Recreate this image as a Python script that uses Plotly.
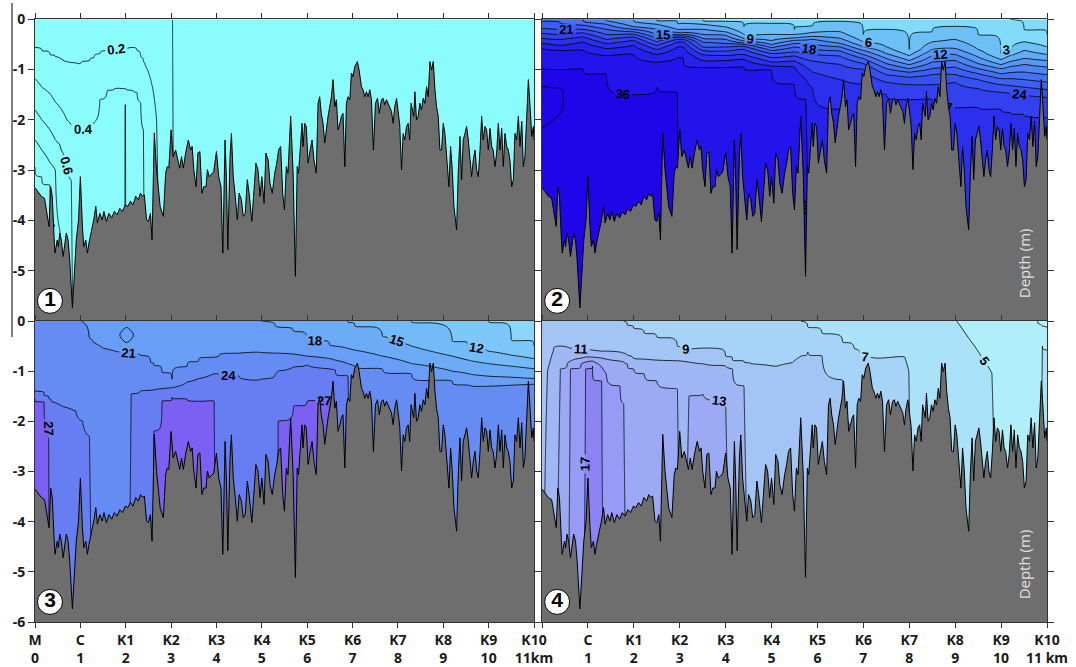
import numpy as np
import plotly.graph_objects as go

U, D = 9.0, -9.0   # isoline above the surface / never reached in that column

# ---------------- bathymetry (km, depth m) ----------------
BATHY_KM = [0.0, 0.07, 0.14, 0.21, 0.265, 0.31, 0.345, 0.38, 0.42, 0.44, 0.49, 0.515, 0.545, 0.58, 0.62,
            0.655, 0.69, 0.73, 0.765, 0.825, 0.87, 0.91, 0.96, 1.0, 1.045, 1.075, 1.12, 1.155, 1.19, 1.24,
            1.295, 1.34, 1.375, 1.43, 1.48, 1.52, 1.575, 1.63, 1.69, 1.75, 1.81, 1.87, 1.93, 1.99, 2.045,
            2.105, 2.16, 2.22, 2.28, 2.325, 2.37, 2.41, 2.46, 2.5, 2.545, 2.58, 2.63, 2.68, 2.76, 2.83,
            2.88, 2.915, 2.95, 3.0, 3.045, 3.1, 3.15, 3.19, 3.23, 3.27, 3.32, 3.38, 3.43, 3.465, 3.5,
            3.55, 3.59, 3.635, 3.68, 3.72, 3.77, 3.8, 3.84, 3.89, 3.94, 4.0, 4.05, 4.1, 4.14, 4.19,
            4.22, 4.25, 4.3, 4.33, 4.37, 4.415, 4.46, 4.5, 4.55, 4.59, 4.635, 4.68, 4.72, 4.78, 4.83,
            4.87, 4.915, 4.96, 5.0, 5.05, 5.09, 5.14, 5.18, 5.23, 5.285, 5.33, 5.37, 5.415, 5.46, 5.5,
            5.54, 5.577, 5.636, 5.69, 5.74, 5.78, 5.81, 5.857, 5.886, 5.908, 5.945, 5.98, 6.02, 6.055,
            6.107, 6.15, 6.2, 6.24, 6.276, 6.31, 6.35, 6.387, 6.42, 6.46, 6.497, 6.534, 6.57, 6.61,
            6.644, 6.68, 6.72, 6.755, 6.79, 6.83, 6.865, 6.9, 6.94, 6.975, 7.01, 7.05, 7.107, 7.145,
            7.196, 7.23, 7.27, 7.306, 7.343, 7.38, 7.417, 7.46, 7.505, 7.55, 7.59, 7.637, 7.674, 7.71,
            7.748, 7.785, 7.82, 7.858, 7.895, 7.93, 7.97, 8.005, 8.04, 8.08, 8.116, 8.152, 8.19, 8.226,
            8.26, 8.29, 8.315, 8.35, 8.374, 8.41, 8.448, 8.484, 8.52, 8.558, 8.595, 8.632, 8.668, 8.705,
            8.742, 8.78, 8.816, 8.852, 8.889, 8.926, 8.963, 9.0, 9.036, 9.073, 9.125, 9.161, 9.198,
            9.235, 9.272, 9.294, 9.33, 9.368, 9.404, 9.44, 9.478, 9.515, 9.552, 9.588, 9.625, 9.662,
            9.7, 9.735, 9.772, 9.81, 9.846, 9.882, 9.92, 9.956, 9.993, 10.03, 10.066, 10.1, 10.14,
            10.177, 10.214, 10.25, 10.288, 10.324, 10.36, 10.398, 10.434, 10.47, 10.508, 10.545, 10.58,
            10.618, 10.655, 10.692, 10.73, 10.765, 10.8, 10.84, 10.876, 10.913, 10.95, 10.986, 11.0]
BATHY_DEPTH = [-3.35, -3.43, -3.52, -3.56, -3.86, -4.12, -3.33, -3.52, -4.32, -4.65, -4.39, -4.52, -4.25, -4.39, -4.72,
               -4.52, -4.25, -4.39, -4.78, -5.74, -4.92, -4.39, -3.99, -3.13, -4.12, -4.52, -4.39, -4.65, -4.45, -4.25,
               -3.99, -3.72, -4.05, -3.86, -3.99, -3.82, -4.02, -3.86, -3.95, -3.82, -3.89, -3.76, -3.82, -3.69, -3.72,
               -3.62, -3.69, -3.52, -3.59, -3.46, -3.52, -3.49, -3.99, -4.02, -3.86, -4.39, -2.26, -3.0, -3.73, -3.92,
               -3.06, -2.93, -2.96, -2.2, -2.73, -2.6, -2.8, -2.96, -2.73, -2.96, -2.66, -2.4, -2.6, -2.53, -2.99,
               -3.33, -2.66, -2.63, -3.46, -3.33, -3.33, -2.99, -3.13, -3.09, -3.03, -2.63, -3.13, -3.33, -4.65, -2.4,
               -3.19, -4.58, -2.73, -2.27, -3.13, -3.52, -3.99, -3.46, -3.59, -3.92, -3.86, -3.19, -3.46, -4.02, -3.26,
               -2.86, -2.99, -3.52, -3.13, -3.66, -2.66, -2.8, -3.26, -3.46, -3.06, -2.86, -2.6, -2.53, -3.46, -3.79,
               -2.93, -3.06, -1.93, -3.06, -5.11, -2.93, -3.06, -2.46, -2.07, -2.53, -2.07, -2.13, -2.86, -2.66,
               -2.4, -2.8, -3.06, -1.67, -1.54, -1.87, -2.07, -2.46, -2.2, -1.93, -1.74, -1.54, -1.2, -1.74,
               -1.6, -2.2, -2.07, -1.93, -1.87, -2.93, -1.67, -1.54, -1.6, -1.07, -1.14, -0.94, -0.84, -1.01,
               -1.34, -1.4, -1.54, -1.44, -1.54, -1.4, -1.6, -2.6, -1.67, -1.57, -1.87, -1.6, -1.57, -1.7,
               -1.6, -1.67, -1.74, -1.83, -2.07, -1.74, -1.57, -1.83, -2.1, -2.99, -2.27, -2.4, -2.13, -2.07,
               -2.4, -1.67, -1.8, -1.93, -1.44, -2.0, -1.93, -1.67, -1.8, -1.57, -1.67, -1.34, -1.54, -0.84,
               -1.01, -0.84, -1.4, -1.74, -1.93, -2.6, -2.6, -2.07, -2.27, -2.66, -3.33, -2.53, -2.99,
               -3.72, -3.99, -4.19, -3.06, -2.33, -3.19, -2.4, -2.27, -2.13, -2.4, -2.73, -3.13, -2.8,
               -2.6, -2.99, -3.13, -2.6, -1.93, -2.4, -2.13, -2.2, -2.6, -2.17, -2.53, -2.6, -2.93,
               -2.66, -2.07, -2.6, -2.17, -2.93, -2.27, -2.53, -2.6, -2.8, -3.33, -3.19, -2.27,
               -2.4, -1.93, -2.53, -2.03, -2.93, -2.73, -1.93, -1.2, -1.74, -2.33, -2.13, -2.4]

# ---------------- panel 1 : isoline depths per column ----------------
P1_LEVELS = [0.0, 0.2, 0.4, 0.6, 0.8, 1.0]
P1_COLS = [0.0, 0.15, 0.33, 0.45, 0.55, 0.62, 0.7, 0.8, 0.86, 1.0, 1.2, 1.3, 1.43, 1.59, 1.75, 1.975, 1.985,
           1.995, 2.005, 2.16, 2.25, 2.33, 2.39, 2.43, 2.5, 2.6, 2.68, 2.75, 2.97, 3.07, 11.0]
P1_ISO = [
    [U, -0.56, -1.18, -1.80, -2.40, -2.93], [U, -0.62, -1.35, -2.00, -2.60, -3.13],
    [U, -0.70, -1.48, -2.20, -2.85, -3.30], [U, -0.75, -1.65, -2.40, -3.00, D],
    [U, -0.78, -1.75, -2.50, -4.20, D], [U, -0.82, -1.85, -2.66, D, D],
    [U, -0.84, -2.00, -2.80, D, D], [U, -0.86, -2.10, -3.20, D, D],
    [U, -0.87, -2.15, D, D, D], [U, -0.88, -2.20, D, D, D],
    [U, -0.82, -2.18, D, D, D], [U, -0.76, -2.05, D, D, D],
    [U, -0.68, -1.60, D, D, D], [U, -0.62, -1.42, D, D, D],
    [U, -0.60, -1.38, D, D, D], [U, -0.58, -1.38, D, D, D],
    [U, -0.58, -1.38, -1.70, D, D], [U, -0.58, -1.38, -1.70, D, D],
    [U, -0.58, -1.38, D, D, D], [U, -0.56, -1.42, D, D, D],
    [U, -0.62, -1.45, D, D, D], [U, -0.75, -1.65, D, D, D],
    [U, -0.85, -2.20, D, D, D], [U, -0.92, D, D, D, D],
    [U, -1.05, D, D, D, D], [U, -1.40, D, D, D, D],
    [U, -2.00, D, D, D, D], [U, D, D, D, D, D],
    [U, D, D, D, D, D], [D, D, D, D, D, D], [D, D, D, D, D, D]]

# ---------------- panel 2 ----------------
P2_LEVELS = [0.5, 3, 6, 9, 12, 15, 18, 21, 24, 27, 30, 33, 36]
P2_COLS = [0.0, 0.4, 0.9, 1.4, 2.0, 2.5, 2.95, 3.08, 3.5, 4.0, 4.4, 5.0, 5.5, 5.75, 5.9, 6.5, 7.0, 7.5,
           8.0, 8.5, 9.0, 9.5, 10.0, 10.2, 10.5, 11.0]
P2_ISO = [
    [U, U, U, U, U, U, -0.05, -0.18, -0.28, -0.38, -0.48, -0.58, -0.95],
    [U, U, U, U, U, U, -0.08, -0.20, -0.30, -0.40, -0.52, -0.62, -1.00],
    [U, U, U, U, U, -0.05, -0.12, -0.20, -0.27, -0.35, -0.45, -0.62, -1.00],
    [U, U, U, U, -0.03, -0.10, -0.20, -0.30, -0.40, -0.48, -0.58, -0.72, -1.10],
    [U, U, U, -0.05, -0.15, -0.20, -0.25, -0.30, -0.35, -0.42, -0.52, -0.70, -1.50],
    [U, U, -0.02, -0.10, -0.20, -0.30, -0.38, -0.45, -0.52, -0.60, -0.70, -0.85, -1.35],
    [U, U, -0.08, -0.20, -0.26, -0.30, -0.33, -0.36, -0.40, -0.45, -0.55, -0.75, -1.45],
    [U, U, -0.08, -0.20, -0.26, -0.30, -0.33, -0.36, -0.40, -0.45, -0.55, -0.78, D],
    [U, -0.02, -0.10, -0.20, -0.30, -0.38, -0.45, -0.55, -0.62, -0.70, -0.82, -0.95, D],
    [U, -0.05, -0.15, -0.25, -0.32, -0.40, -0.48, -0.55, -0.63, -0.72, -0.82, -0.95, D],
    [U, -0.15, -0.30, -0.38, -0.43, -0.47, -0.50, -0.54, -0.60, -0.70, -0.80, -0.95, D],
    [U, -0.08, -0.30, -0.42, -0.50, -0.56, -0.62, -0.68, -0.76, -0.85, -0.93, -1.02, D],
    [U, -0.20, -0.30, -0.37, -0.42, -0.48, -0.55, -0.65, -0.73, -0.83, -0.95, -1.30, D],
    [U, -0.15, -0.28, -0.35, -0.41, -0.49, -0.58, -0.68, -0.80, -0.95, -1.20, -1.60, D],
    [U, -0.12, -0.26, -0.34, -0.40, -0.50, -0.60, -0.70, -0.83, -1.05, -1.40, D, D],
    [U, -0.05, -0.25, -0.38, -0.48, -0.55, -0.63, -0.73, -0.90, -1.20, -1.80, D, D],
    [U, -0.30, -0.45, -0.55, -0.62, -0.70, -0.78, -0.88, -1.00, -1.30, D, D, D],
    [U, -0.20, -0.55, -0.68, -0.78, -0.88, -0.98, -1.10, -1.25, -1.50, D, D, D],
    [U, -0.60, -0.72, -0.82, -0.90, -0.98, -1.05, -1.15, -1.30, -1.60, D, D, D],
    [U, -0.25, -0.45, -0.60, -0.72, -0.85, -0.98, -1.10, -1.30, -1.60, D, D, D],
    [U, -0.15, -0.40, -0.58, -0.70, -0.82, -0.95, -1.10, -1.25, -1.75, D, D, D],
    [U, -0.30, -0.60, -0.75, -0.88, -0.98, -1.08, -1.20, -1.38, -1.75, D, D, D],
    [U, -0.68, -0.80, -0.90, -0.98, -1.08, -1.18, -1.30, -1.45, -1.80, D, D, D],
    [-0.01, -0.60, -0.72, -0.84, -0.94, -1.06, -1.18, -1.32, -1.47, -1.85, D, D, D],
    [-0.20, -0.45, -0.62, -0.78, -0.90, -1.05, -1.20, -1.35, -1.50, -1.90, D, D, D],
    [-0.30, -0.55, -0.70, -0.82, -0.95, -1.10, -1.25, -1.40, -1.55, -1.95, D, D, D]]
# small closed 37 cell near the left end of panel 2 (km, depth, value grid)
P2_CELL_KM = [0.0, 0.2, 0.4, 0.55, 0.65]
P2_CELL_DEPTH = [-2.4, -2.1, -1.7, -1.4, -1.2]
P2_CELL_Z = [[36.8, 36.8, 36.8, 36.8, 36.8],
             [37.05, 36.95, 36.85, 36.8, 36.8],
             [37.3, 37.25, 37.1, 36.85, 36.8],
             [37.1, 37.05, 37.02, 36.9, 36.8],
             [36.8, 36.8, 36.8, 36.8, 36.8]]

# ---------------- panel 3 ----------------
P3_LEVELS = [9, 12, 15, 18, 21, 24, 27]
P3_COLS = [0.0, 0.2, 0.3, 0.36, 0.6, 0.9, 1.05, 1.2, 1.28, 1.51, 1.8, 2.05, 2.12, 2.32, 2.55, 2.62, 2.8,
           3.02, 3.35, 3.6, 3.95, 4.05, 4.5, 4.9, 5.0, 5.3, 5.36, 5.7, 6.0, 6.5, 6.62, 6.9, 7.05, 7.66,
           8.3, 9.2, 9.55, 9.65, 10.0, 10.5, 11.0]
P3_ISO = [
    [U, U, U, U, U, -1.40, -1.53], [U, U, U, U, U, -1.48, -1.62], [U, U, U, U, U, -1.55, -2.00],
    [U, U, U, U, U, -1.60, D], [U, U, U, U, U, -1.70, D], [U, U, U, U, U, -1.80, D],
    [U, U, U, U, -0.02, -2.00, D], [U, U, U, U, -0.35, -2.30, D], [U, U, U, U, -0.42, D, D],
    [U, U, U, U, -0.54, D, D], [U, U, U, U, -0.61, D, D], [U, U, U, U, -0.64, D, D],
    [U, U, U, U, -0.65, -1.45, D], [U, U, U, U, -0.68, -1.40, D], [U, U, U, U, -0.82, -1.38, D],
    [U, U, U, U, -0.88, -1.37, -2.20], [U, U, U, U, -1.02, -1.35, -1.60], [U, U, U, U, -1.17, -1.33, -1.52],
    [U, U, U, U, -0.91, -1.22, -1.55], [U, U, U, U, -0.80, -1.15, -1.60], [U, U, U, U, -0.72, -1.05, -1.60],
    [U, U, U, U, -0.70, -1.05, D], [U, U, U, U, -0.64, -1.10, D], [U, U, U, U, -0.63, -1.17, D],
    [U, U, U, -0.01, -0.63, -1.15, D], [U, U, U, -0.10, -0.64, -1.05, D],
    [U, U, U, -0.12, -0.64, -1.00, -2.00], [U, U, U, -0.20, -0.66, -0.92, -1.70],
    [U, U, U, -0.38, -0.70, -0.88, -1.60], [U, U, U, -0.48, -0.75, -0.95, -1.55],
    [U, U, U, -0.50, -0.78, -0.98, D], [U, U, -0.02, -0.55, -0.85, -1.10, D],
    [U, U, -0.10, -0.58, -0.90, D, D], [U, U, -0.30, -0.70, -0.95, D, D],
    [U, -0.02, -0.50, -0.85, -1.05, D, D], [U, -0.40, -0.70, -1.00, -1.20, D, D],
    [U, -0.50, -0.78, -1.05, -1.28, D, D], [U, -0.52, -0.80, -1.07, -1.30, D, D],
    [-0.02, -0.60, -0.85, -1.10, -1.30, D, D], [-0.38, -0.68, -0.90, -1.12, -1.28, D, D],
    [-0.50, -0.75, -0.95, -1.15, -1.25, D, D]]
# small closed 21 cell near the surface of panel 3 (km, depth, value grid)
P3_CELL_KM = [1.78, 1.9, 2.02, 2.14, 2.26]
P3_CELL_DEPTH = [-0.52, -0.4, -0.28, -0.16, -0.04]
P3_CELL_Z = [[21.3, 21.3, 21.3, 21.3, 21.3],
             [21.3, 21.1, 20.9, 21.1, 21.3],
             [21.3, 20.9, 20.7, 20.9, 21.3],
             [21.3, 21.1, 20.9, 21.1, 21.3],
             [21.3, 21.3, 21.3, 21.3, 21.3]]

# ---------------- panel 4 ----------------
P4_LEVELS = [3, 5, 7, 9, 11, 13, 15, 17]
P4_COLS = [0.0, 0.12, 0.25, 0.4, 0.55, 0.62, 0.85, 0.95, 1.1, 1.3, 1.4, 1.7, 1.78, 1.86, 2.0, 2.23, 2.5,
           2.95, 3.05, 3.2, 3.5, 4.0, 4.15, 4.4, 4.55, 5.1, 5.45, 5.64, 5.79, 6.1, 6.55, 6.8, 6.95, 7.3,
           7.9, 7.99, 8.06, 9.04, 9.3, 9.6, 9.8, 9.92, 10.7, 10.8, 10.9, 11.0]
P4_ISO = [
    [U, U, U, U, D, D, D, D], [U, U, U, U, -1.00, D, D, D], [U, U, U, U, -0.58, D, D, D],
    [U, U, U, U, -0.50, -0.95, D, D], [U, U, U, U, -0.52, -0.85, D, D], [U, U, U, U, -0.55, -0.80, -0.95, D],
    [U, U, U, U, -0.56, -0.74, -0.85, D], [U, U, U, U, -0.57, -0.72, -0.82, -0.95],
    [U, U, U, U, -0.58, -0.72, -0.80, -0.90], [U, U, U, U, -0.60, -0.74, -0.92, -1.20],
    [U, U, U, U, -0.60, -0.76, -1.05, D], [U, U, U, U, -0.62, -0.80, -1.30, D],
    [U, U, U, -0.01, -0.64, -0.82, -1.65, D], [U, U, U, -0.08, -0.68, -0.85, D, D],
    [U, U, U, -0.15, -0.75, -0.95, D, D], [U, U, U, -0.24, -0.76, -1.05, D, D],
    [U, U, U, -0.32, -0.78, -1.20, D, D], [U, U, U, -0.50, -0.79, -1.35, D, D],
    [U, U, U, -0.56, -0.80, D, D, D], [U, U, U, -0.56, -0.82, -1.50, D, D],
    [U, U, U, -0.54, -0.85, -1.45, D, D], [U, U, U, -0.70, -0.90, -1.60, D, D],
    [U, U, U, -0.78, -0.95, D, D, D], [U, U, U, -0.82, -1.30, D, D, D],
    [U, U, U, -0.85, D, D, D, D], [U, U, U, -0.90, D, D, D, D], [U, U, U, -0.83, D, D, D, D],
    [U, U, -0.01, -0.70, D, D, D, D], [U, U, -0.12, -0.62, D, D, D, D], [U, U, -0.25, -0.70, D, D, D, D],
    [U, U, -0.42, -1.18, D, D, D, D], [U, U, -0.55, -2.20, D, D, D, D], [U, U, -0.70, D, D, D, D, D],
    [U, U, -0.74, D, D, D, D, D], [U, U, -0.72, D, D, D, D, D], [U, U, -1.00, D, D, D, D, D],
    [U, U, D, D, D, D, D, D], [U, -0.01, D, D, D, D, D, D], [U, -0.35, D, D, D, D, D, D],
    [U, -0.75, D, D, D, D, D, D], [U, -1.04, D, D, D, D, D, D], [U, D, D, D, D, D, D, D],
    [U, D, D, D, D, D, D, D], [-0.05, D, D, D, D, D, D, D], [-0.10, -0.50, D, D, D, D, D, D],
    [-0.15, -0.58, D, D, D, D, D, D]]

# ---------------- colours ----------------
WATER1 = "rgb(138,252,252)"
P2_BANDS = ["rgb(128,220,249)", "rgb(108,192,246)", "rgb(98,172,245)", "rgb(88,152,245)", "rgb(78,132,244)",
            "rgb(70,113,243)", "rgb(62,96,242)", "rgb(56,80,241)", "rgb(50,64,240)", "rgb(44,48,238)",
            "rgb(38,34,236)", "rgb(34,20,234)", "rgb(30,6,232)"]
P3_BANDS = ["rgb(140,214,250)", "rgb(125,200,250)", "rgb(115,186,248)", "rgb(108,172,246)",
            "rgb(104,158,245)", "rgb(100,140,242)", "rgb(102,126,242)", "rgb(124,96,243)"]
P4_BANDS = ["rgb(185,246,252)", "rgb(176,238,250)", "rgb(170,226,250)", "rgb(165,212,248)",
            "rgb(162,197,246)", "rgb(160,183,245)", "rgb(156,169,245)", "rgb(150,155,245)", "rgb(140,132,245)"]
GROUND = "rgb(110,110,110)"

STATIONS = ["M", "C", "K1", "K2", "K3", "K4", "K5", "K6", "K7", "K8", "K9", "K10"]
KM_LABELS = ["0", "1", "2", "3", "4", "5", "6", "7", "8", "9", "10", "11"]

YGRID = np.linspace(-6.0, 0.0, 301)


def build_field(cols, levels, iso):
    """Per column: piecewise-linear profile through the isoline depths, extended past both ends."""
    lv = list(levels)
    step = lv[-1] - lv[-2]
    z = np.zeros((len(YGRID), len(cols)))
    for j in range(len(cols)):
        dd, prev = [], None
        for v in iso[j]:
            if prev is not None and v >= prev:
                v = prev - 0.01
            dd.append(v)
            prev = v
        depths = [20.0] + dd + [-20.0]
        vals = [lv[0] - step] + lv + [lv[-1] + step]
        z[:, j] = np.interp(YGRID, depths[::-1], vals[::-1])
    return z


def scale(colors):
    n = len(colors) - 1
    return [[i / n, c] for i, c in enumerate(colors)]


LABEL_FONT = dict(family="Liberation Sans", size=13, color="black", weight="bold")
LINE = dict(color="black", width=0.8, smoothing=1.3)
BLACK = [[0, "black"], [1, "black"]]

fig = go.Figure()
axes = [("x", "y"), ("x2", "y2"), ("x3", "y3"), ("x4", "y4")]


def contour(cols, z, xa, ya, start, end, size, colors, coloring="fill"):
    return go.Contour(x=cols, y=YGRID, z=z, xaxis=xa, yaxis=ya, autocontour=False,
                      contours=dict(start=start, end=end, size=size, coloring=coloring, showlabels=True,
                                    labelfont=LABEL_FONT),
                      colorscale=colors, showscale=False, line=LINE, hoverinfo="skip")


def cell(xs, ys, zz, xa, ya, level, labels):
    return go.Contour(x=xs, y=ys, z=zz, xaxis=xa, yaxis=ya, autocontour=False,
                      contours=dict(start=level, end=level, size=1, coloring="lines", showlabels=labels,
                                    labelfont=LABEL_FONT),
                      colorscale=BLACK, showscale=False, line=LINE, hoverinfo="skip")


fig.add_trace(contour(P1_COLS, build_field(P1_COLS, P1_LEVELS, P1_ISO), "x", "y", 0, 1.0, 0.2,
                      [[0, WATER1], [1, WATER1]]))
z2 = build_field(P2_COLS, P2_LEVELS, P2_ISO)
fig.add_trace(contour(P2_COLS, z2, "x2", "y2", 3, 36, 3, scale(P2_BANDS)))
fig.add_trace(contour(P2_COLS, z2, "x2", "y2", 0.5, 0.5, 1, BLACK, coloring="lines"))
fig.add_trace(cell(P2_CELL_KM, P2_CELL_DEPTH, P2_CELL_Z, "x2", "y2", 37, True))
fig.add_trace(contour(P3_COLS, build_field(P3_COLS, P3_LEVELS, P3_ISO), "x3", "y3", 9, 27, 3,
                      scale(P3_BANDS)))
fig.add_trace(cell(P3_CELL_KM, P3_CELL_DEPTH, P3_CELL_Z, "x3", "y3", 21, False))
fig.add_trace(contour(P4_COLS, build_field(P4_COLS, P4_LEVELS, P4_ISO), "x4", "y4", 3, 17, 2,
                      scale(P4_BANDS)))

# bathymetry + panel numbers
for k, (xa, ya) in enumerate(axes):
    fig.add_trace(go.Scatter(x=[0.0] + BATHY_KM + [11.0], y=[-6.0] + BATHY_DEPTH + [-6.0],
                             xaxis=xa, yaxis=ya, mode="lines", fill="toself", fillcolor=GROUND,
                             line=dict(width=0), hoverinfo="skip", showlegend=False))
    fig.add_trace(go.Scatter(x=BATHY_KM, y=BATHY_DEPTH, xaxis=xa, yaxis=ya, mode="lines",
                             line=dict(color="black", width=1), hoverinfo="skip", showlegend=False))
    fig.add_trace(go.Scatter(x=[0.33], y=[-5.6], xaxis=xa, yaxis=ya, mode="markers+text",
                             text=[str(k + 1)], textposition="middle center",
                             textfont=dict(family="Liberation Sans", size=21, color="black", weight="bold"),
                             marker=dict(size=25, color="white", line=dict(color="black", width=1)),
                             hoverinfo="skip", showlegend=False))

for ya in ["y2", "y4"]:
    fig.add_annotation(x=10.5, y=-4.85, xref=ya.replace("y", "x"), yref=ya, text="Depth (m)",
                       textangle=-90, showarrow=False,
                       font=dict(family="Open Sans", size=15, color="rgb(225,225,225)"))

LX = [35 / 1076, 534 / 1076]
RX = [542 / 1076, 1047 / 1076]
TY = [1 - 321 / 667, 1 - 19.3 / 667]
BY = [1 - 622 / 667, 1 - 321 / 667]
TICKF = dict(family="Noto Sans", size=14, color="#1a1a1a", weight="bold")


def xax(dom, anchor, top, labels=None):
    d = dict(domain=dom, anchor=anchor, range=[0, 11], tickvals=list(range(12)), ticks="outside",
             ticklen=5, tickwidth=1, tickcolor="#333", showline=True, linecolor="#333", linewidth=1,
             showgrid=False, zeroline=False, tickfont=TICKF, automargin=False)
    if top:
        d.update(side="top", showticklabels=False, mirror=True)
    else:
        d.update(side="bottom", showticklabels=True, mirror="ticks", ticktext=labels)
    return d


def yax(dom, anchor, left, vals=None):
    d = dict(domain=dom, anchor=anchor, range=[-6, 0], ticks="outside", ticklen=6, tickwidth=1,
             tickcolor="#333", showline=True, linecolor="#333", linewidth=1, showgrid=False,
             zeroline=False, mirror="ticks", tickfont=TICKF, automargin=False)
    if left:
        d.update(side="left", tickvals=vals, ticktext=[str(v) for v in vals])
    else:
        d.update(side="right", tickvals=list(range(0, -7, -1)), showticklabels=False)
    return d


lab_left = [f"{s}<br>{k}" for s, k in zip(STATIONS, KM_LABELS)]
lab_left[-1] = "K10<br>11km"
lab_right = [""] + [f"{s}<br>{k}" for s, k in zip(STATIONS[1:], KM_LABELS[1:])]
lab_right[-1] = "K10<br>11 km"

fig.update_layout(
    width=1076, height=667, margin=dict(l=0, r=0, t=0, b=0, autoexpand=False),
    paper_bgcolor="white", plot_bgcolor="white", showlegend=False,
    xaxis=xax(LX, "y", True), yaxis=yax(TY, "x", True, [0, -1, -2, -3, -4, -5]),
    xaxis2=xax(RX, "y2", True), yaxis2=yax(TY, "x2", False),
    xaxis3=xax(LX, "y3", False, lab_left), yaxis3=yax(BY, "x3", True, [0, -1, -2, -3, -4, -5, -6]),
    xaxis4=xax(RX, "y4", False, lab_right), yaxis4=yax(BY, "x4", False),
    shapes=[dict(type="line", xref="paper", yref="paper", x0=12 / 1076, x1=12 / 1076,
                 y0=1 - 3 / 667, y1=1 - 337 / 667, line=dict(color="black", width=1))],
)

fig.write_html("out.html", post_script="document.body.style.margin='0';document.body.style.overflow='hidden';")
